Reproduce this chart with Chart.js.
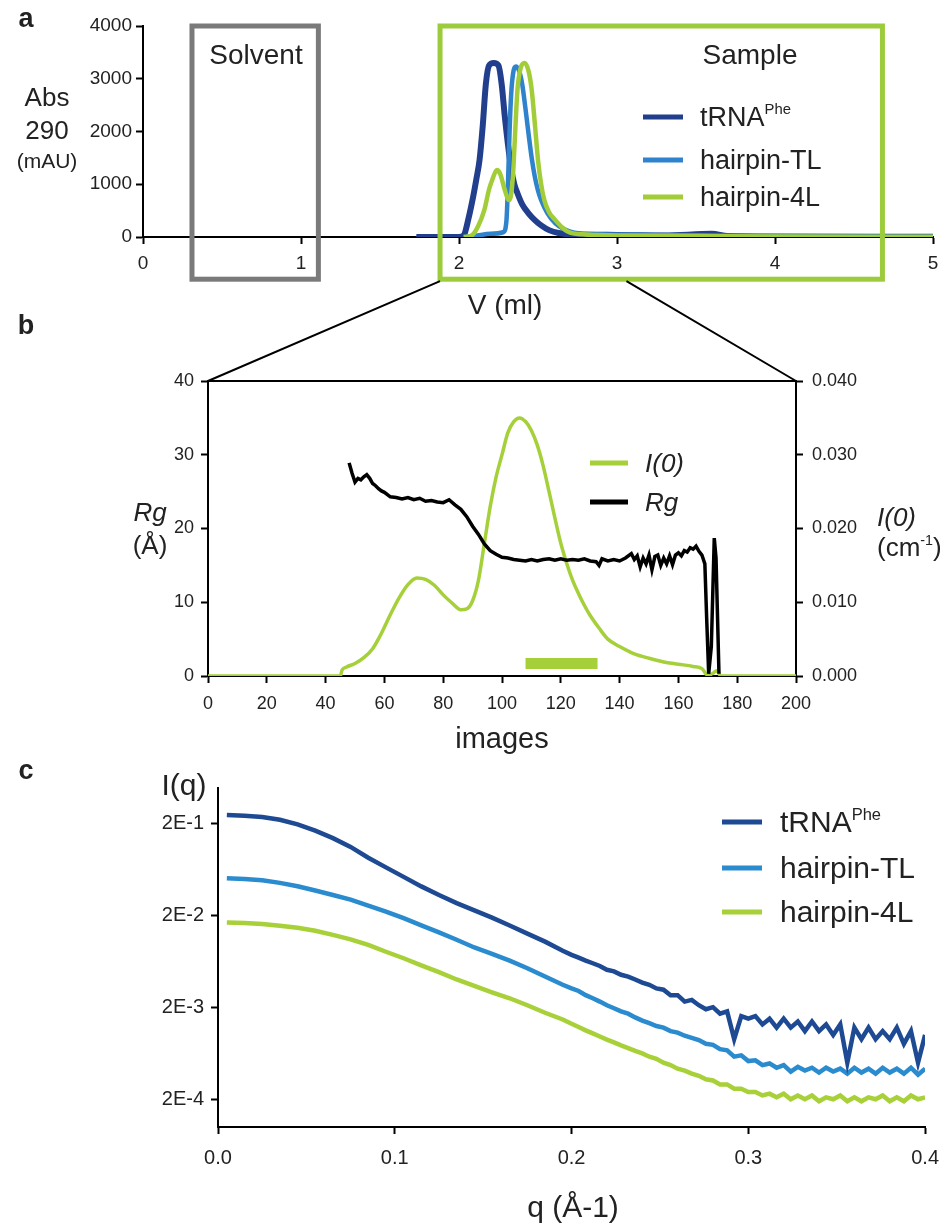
<!DOCTYPE html>
<html>
<head>
<meta charset="utf-8">
<script src="https://cdn.jsdelivr.net/npm/chart.js@4.4.0/dist/chart.umd.min.js"></script>
<style>
body{margin:0;background:#fff;font-family:'Liberation Sans',Arial,sans-serif;color:#222}
#page{position:relative;width:951px;height:1225px;overflow:hidden}
canvas{position:absolute;left:0}
.t{position:absolute;white-space:nowrap;transform:translate(-50%,-50%);line-height:1}
.l{position:absolute;white-space:nowrap;transform:translateY(-50%);line-height:1}
.sw{position:absolute;height:5px;transform:translateY(-50%)}
.bold{font-weight:bold}
.it{font-style:italic}
sup{font-size:55%;vertical-align:0.75em;line-height:0}
</style>
</head>
<body>
<div id="page">
  <canvas id="ca" width="951" height="300" style="top:0;width:951px;height:300px"></canvas>
  <canvas id="cb" width="951" height="440" style="top:300px;width:951px;height:440px"></canvas>
  <canvas id="cc" width="951" height="485" style="top:740px;width:951px;height:485px"></canvas>
  <canvas id="ov" width="951" height="1225" style="top:0;width:951px;height:1225px;pointer-events:none"></canvas>

  <!-- panel a text -->
  <div class="t bold" style="left:26px;top:18px;font-size:27px">a</div>
  <div class="t" style="left:47px;top:97px;font-size:26px">Abs</div>
  <div class="t" style="left:47px;top:130px;font-size:26px">290</div>
  <div class="t" style="left:47px;top:160px;font-size:21px">(mAU)</div>
  <div class="t" style="left:256px;top:55px;font-size:28px">Solvent</div>
  <div class="t" style="left:750px;top:55px;font-size:28px">Sample</div>
  <div class="sw" style="left:643px;top:117px;width:40px;background:#223f8e"></div>
  <div class="sw" style="left:643px;top:160px;width:40px;background:#2f82cc"></div>
  <div class="sw" style="left:643px;top:197px;width:40px;background:#a2cd39"></div>
  <div class="l" style="left:700px;top:117px;font-size:27px">tRNA<sup>Phe</sup></div>
  <div class="l" style="left:700px;top:160px;font-size:27px">hairpin-TL</div>
  <div class="l" style="left:700px;top:197px;font-size:27px">hairpin-4L</div>
  <div class="t" style="left:505px;top:305px;font-size:28px">V (ml)</div>

  <!-- panel b text -->
  <div class="t bold" style="left:26px;top:325px;font-size:27px">b</div>
  <div class="t it" style="left:150px;top:512px;font-size:26px">Rg</div>
  <div class="t" style="left:150px;top:545px;font-size:26px">(Å)</div>
  <div class="l it" style="left:877px;top:517px;font-size:26px">I(0)</div>
  <div class="l" style="left:877px;top:547px;font-size:26px">(cm<sup>-1</sup>)</div>
  <div class="sw" style="left:590px;top:463px;width:38px;background:#a5d03a"></div>
  <div class="sw" style="left:590px;top:502px;width:38px;background:#000"></div>
  <div class="l it" style="left:645px;top:463px;font-size:26px">I(0)</div>
  <div class="l it" style="left:645px;top:502px;font-size:26px">Rg</div>
  <div class="t" style="left:502px;top:738px;font-size:29px">images</div>

  <!-- panel c text -->
  <div class="t bold" style="left:26px;top:770px;font-size:27px">c</div>
  <div class="t" style="left:184px;top:785px;font-size:30px">I(q)</div>
  <div class="sw" style="left:722px;top:822px;width:40px;background:#1d4a93"></div>
  <div class="sw" style="left:722px;top:868px;width:40px;background:#2b8bcf"></div>
  <div class="sw" style="left:722px;top:912px;width:40px;background:#a8d038"></div>
  <div class="l" style="left:780px;top:822px;font-size:30px">tRNA<sup>Phe</sup></div>
  <div class="l" style="left:780px;top:868px;font-size:30px">hairpin-TL</div>
  <div class="l" style="left:780px;top:912px;font-size:30px">hairpin-4L</div>
  <div class="t" style="left:573px;top:1207px;font-size:30px">q (Å-1)</div>
</div>

<script>
// ---- panel a : elution profiles, Abs 290 (mAU) vs V (ml)
const vTrna = [1.73, 1.90, 2.00, 2.03, 2.06, 2.09, 2.11, 2.13, 2.15, 2.17, 2.19, 2.22, 2.25, 2.27, 2.29, 2.31, 2.33, 2.35, 2.37, 2.40, 2.44, 2.48, 2.52, 2.57, 2.63, 2.75, 3.0, 3.3, 3.6, 3.7, 4.0, 5.0];
const absTrna = [0, 0, 0, 30, 350, 770, 1100, 1460, 2100, 2900, 3250, 3300, 3250, 2900, 2280, 1750, 1300, 1000, 830, 620, 450, 320, 220, 130, 75, 45, 40, 30, 60, 20, 10, 5];
const vTl = [2.03, 2.10, 2.20, 2.28, 2.30, 2.31, 2.32, 2.33, 2.345, 2.36, 2.38, 2.40, 2.42, 2.44, 2.46, 2.48, 2.50, 2.52, 2.56, 2.61, 2.67, 2.73, 2.9, 3.3, 3.6, 4.0, 5.0];
const absTl = [0, 20, 60, 90, 300, 1000, 2000, 2700, 3150, 3230, 3150, 2900, 2450, 1960, 1500, 1140, 880, 700, 450, 260, 140, 80, 50, 40, 30, 15, 5];
const v4l = [2.03, 2.08, 2.12, 2.16, 2.19, 2.21, 2.24, 2.26, 2.29, 2.31, 2.32, 2.34, 2.35, 2.37, 2.39, 2.415, 2.44, 2.46, 2.48, 2.50, 2.52, 2.54, 2.57, 2.61, 2.65, 2.69, 2.78, 3.0, 3.5, 4.0, 5.0];
const abs4l = [0, 30, 200, 510, 900, 1080, 1270, 1200, 890, 720, 700, 1100, 1650, 2790, 3200, 3300, 3150, 2790, 2150, 1460, 1000, 700, 470, 320, 190, 100, 50, 30, 20, 10, 5];
const solventRange = [0.31, 1.11];   // ml
const sampleRange = [1.88, 4.68];    // ml
const zoomEnd = 3.06;                // ml, right end of the zoom wedge
const boxBottom = -800;              // mAU, boxes run below the axis

// ---- panel b : I(0) and Rg vs image number
const i0Images = [0, 45, 45.6, 47, 50, 53, 56, 59, 62, 65,
  68, 71, 74, 77, 80, 83, 86, 88, 90, 92,
  94, 96, 98, 100, 102, 104, 106, 108, 110, 112,
  114, 116, 118, 120, 122, 124, 126, 128, 130, 133,
  136, 140, 145, 150, 155, 160, 165, 168, 170, 171.5,
  173, 174.5, 200];
const i0Values = [0, 0, 0.0008, 0.0012, 0.0017, 0.0025, 0.0037, 0.0058, 0.0083, 0.0106,
  0.0124, 0.0133, 0.0131, 0.0123, 0.0110, 0.0099, 0.0090, 0.0091, 0.0102, 0.0130,
  0.0180, 0.0230, 0.0270, 0.0300, 0.0330, 0.0345, 0.0350, 0.0345, 0.0333, 0.0313,
  0.0285, 0.0250, 0.0214, 0.0180, 0.0153, 0.0130, 0.0112, 0.0096, 0.0082, 0.0065,
  0.0050, 0.0040, 0.0030, 0.0024, 0.0019, 0.0016, 0.0013, 0.0010, 0.0001, 0.0003,
  0.0007, 0.0000, 0.0000];
const rgImages = [48, 49, 50, 51, 52, 53, 54, 55, 56, 57,
  58, 59, 60, 62, 64, 66, 68, 70, 72, 74,
  76, 78, 80, 82, 84, 86, 88, 90, 92, 94,
  96, 98, 100, 102, 104, 106, 108, 110, 112, 114,
  116, 118, 120, 122, 124, 126, 128, 130, 132, 133,
  134, 136, 138, 140, 142, 144, 145, 146, 147, 148,
  149, 150, 151, 152, 153, 154, 155, 156, 157, 158,
  159, 160, 161, 162, 163, 164, 165, 166, 167, 168,
  169, 169.6, 170.3, 171.2, 172.2, 172.8, 173.8];
const rgValues = [28.9, 27.5, 26.3, 26.8, 26.6, 27.0, 27.3, 26.8, 26.1, 25.8,
  25.4, 25.1, 24.9, 24.3, 24.2, 24.0, 24.2, 23.9, 24.1, 23.7,
  23.8, 23.6, 23.5, 23.9, 23.2, 22.6, 21.6, 20.3, 19.2, 17.9,
  17.0, 16.5, 16.1, 16.0, 15.8, 15.7, 15.6, 15.8, 15.6, 15.8,
  15.9, 15.7, 15.9, 15.7, 15.8, 15.7, 15.9, 15.6, 15.5, 15.0,
  15.9, 15.6, 15.8, 15.6, 16.0, 16.6, 15.8, 16.3, 14.8, 16.0,
  15.2, 16.4, 14.4, 16.2, 16.4, 15.0, 16.0, 15.2, 16.3, 15.1,
  16.4, 16.7, 16.3, 17.0, 16.8, 17.4, 17.2, 17.6, 16.9, 16.4,
  15.2, 8.0, 0.3, 4.0, 18.7, 16.0, 0.3];
const frameRange = [108, 132.5];   // images averaged (green bar)
const frameBarLevel = 1.7;         // Rg units

// ---- panel c : I(q) vs q
const qVals = [0.005, 0.015, 0.025, 0.035, 0.045, 0.055, 0.065, 0.075, 0.085, 0.095,
  0.105, 0.115, 0.125, 0.135, 0.145, 0.155, 0.165, 0.175, 0.185, 0.195,
  0.200, 0.204, 0.208, 0.212, 0.216, 0.220, 0.224, 0.228, 0.232, 0.236,
  0.240, 0.244, 0.248, 0.252, 0.256, 0.260, 0.264, 0.268, 0.272, 0.276,
  0.280, 0.284, 0.288, 0.292, 0.296, 0.300, 0.304, 0.308, 0.312, 0.316,
  0.320, 0.324, 0.328, 0.332, 0.336, 0.340, 0.344, 0.348, 0.352, 0.356,
  0.360, 0.364, 0.368, 0.372, 0.376, 0.380, 0.384, 0.388, 0.392, 0.396,
  0.400];
const iqTrna = [0.244, 0.240, 0.232, 0.217, 0.193, 0.165, 0.137, 0.110, 0.084, 0.066,
  0.052, 0.041, 0.033, 0.027, 0.0225, 0.0188, 0.0154, 0.0126, 0.0103, 0.0082,
  0.0074, 0.0069, 0.0064, 0.0060, 0.0056, 0.0051, 0.0049, 0.0045, 0.0043, 0.0040,
  0.0037, 0.0035, 0.0032, 0.0031, 0.0027, 0.0027, 0.0023, 0.0024, 0.0021, 0.0019,
  0.0020, 0.0017, 0.0018, 0.0009, 0.0016, 0.0015, 0.0016, 0.0013, 0.0015, 0.0012,
  0.0015, 0.0012, 0.0014, 0.0011, 0.0014, 0.0011, 0.0013, 0.0010, 0.0013, 0.0005,
  0.0012, 0.0009, 0.0012, 0.0009, 0.0011, 0.0009, 0.0012, 0.0008, 0.0011, 0.0005,
  0.0010];
const iqTl = [0.0502, 0.0492, 0.0478, 0.0448, 0.0411, 0.0370, 0.0331, 0.0294, 0.0254, 0.0218,
  0.0185, 0.0155, 0.0130, 0.0108, 0.0089, 0.0076, 0.0064, 0.0053, 0.0043, 0.0035,
  0.0032, 0.0030, 0.0027, 0.0025, 0.0023, 0.0021, 0.00195, 0.0018, 0.0017, 0.00155,
  0.00143, 0.00134, 0.00125, 0.00120, 0.00110, 0.00106, 0.00098, 0.00093, 0.00088, 0.00080,
  0.00078, 0.00070, 0.00068, 0.00058, 0.00060, 0.00052, 0.00053, 0.00047, 0.00049, 0.00044,
  0.00047, 0.00040, 0.00045, 0.00041, 0.00044, 0.00039, 0.00044, 0.00040, 0.00043, 0.00038,
  0.00044, 0.00039, 0.00043, 0.00038, 0.00044, 0.00039, 0.00043, 0.00038, 0.00044, 0.00037,
  0.00043];
const iq4l = [0.0166, 0.0164, 0.0160, 0.0153, 0.0146, 0.0135, 0.0122, 0.0109, 0.0095, 0.0080,
  0.0068, 0.0057, 0.0048, 0.0040, 0.0034, 0.0029, 0.0025, 0.0021, 0.00174, 0.00147,
  0.00132, 0.00122, 0.00112, 0.00104, 0.00096, 0.00089, 0.00083, 0.00077, 0.00072, 0.00067,
  0.00063, 0.00058, 0.00055, 0.00050, 0.00047, 0.00043, 0.00041, 0.00038, 0.00036, 0.00033,
  0.00032, 0.00029, 0.00029, 0.00026, 0.00026, 0.00024, 0.00024, 0.00022, 0.00023, 0.00021,
  0.00023, 0.00020, 0.00022, 0.00020, 0.00022, 0.00019, 0.00021, 0.00020, 0.00022, 0.00019,
  0.00021, 0.00019, 0.00021, 0.00020, 0.00022, 0.00019, 0.00021, 0.00019, 0.00022, 0.00020,
  0.00021];
const yTicksC = [2e-4, 2e-3, 2e-2, 2e-1];
const yTickLabelsC = ['2E-4', '2E-3', '2E-2', '2E-1'];

Chart.defaults.font.family = "'Liberation Sans', Arial, sans-serif";
Chart.defaults.color = '#222';
Chart.defaults.animation = false;
Chart.defaults.plugins.legend.display = false;
Chart.defaults.plugins.tooltip.enabled = false;
Chart.defaults.elements.point.radius = 0;

const pts = (xs, ys) => xs.map((x, i) => ({x: x, y: ys[i]}));

// plain black axes with short outward ticks
const grid = {drawOnChartArea: false, drawTicks: true, tickLength: 7, tickWidth: 2, tickColor: '#000', color: '#000'};
const border = {display: true, color: '#000', width: 2};

const boxes = {
  id: 'boxes',
  afterDraw(c) {
    const sx = c.scales.x, sy = c.scales.y, ctx = c.ctx;
    const top = sy.getPixelForValue(4000), bot = sy.getPixelForValue(boxBottom);
    ctx.save();
    ctx.lineWidth = 5;
    ctx.lineJoin = 'miter';
    ctx.strokeStyle = '#7a7a7a';
    let l = sx.getPixelForValue(solventRange[0]), r = sx.getPixelForValue(solventRange[1]);
    ctx.strokeRect(l, top, r - l, bot - top);
    ctx.strokeStyle = '#9ccc3c';
    l = sx.getPixelForValue(sampleRange[0]); r = sx.getPixelForValue(sampleRange[1]);
    ctx.strokeRect(l, top, r - l, bot - top);
    ctx.restore();
  }
};

const topLine = {
  id: 'topLine',
  afterDraw(c) {
    const a = c.chartArea, ctx = c.ctx;
    ctx.save();
    ctx.strokeStyle = '#000';
    ctx.lineWidth = 2;
    ctx.beginPath();
    ctx.moveTo(a.left - 1, a.top);
    ctx.lineTo(a.right + 1, a.top);
    ctx.stroke();
    ctx.restore();
  }
};

const chartA = new Chart(document.getElementById('ca'), {
  type: 'line',
  data: {datasets: [
    {data: pts(vTrna, absTrna), borderColor: '#223f8e', borderWidth: 6, cubicInterpolationMode: 'monotone', order: 2},
    {data: pts(vTl, absTl), borderColor: '#2f82cc', borderWidth: 4.5, cubicInterpolationMode: 'monotone', order: 1},
    {data: pts(v4l, abs4l), borderColor: '#a2cd39', borderWidth: 4.5, cubicInterpolationMode: 'monotone', order: 0}
  ]},
  options: {
    responsive: false,
    layout: {padding: {left: 0, right: 18, top: 26, bottom: 0}},
    scales: {
      x: {type: 'linear', min: 0, max: 5, grid: grid, border: border,
          ticks: {stepSize: 1, font: {size: 19}, padding: 8, maxRotation: 0},
          afterFit(s) { s.height = 63; }},
      y: {min: 0, max: 4000, grid: grid, border: border,
          ticks: {stepSize: 1000, font: {size: 19}, padding: 4, callback: v => String(v)},
          afterFit(s) { s.width = 143; }}
    }
  },
  plugins: [boxes]
});

const chartB = new Chart(document.getElementById('cb'), {
  type: 'line',
  data: {datasets: [
    {data: pts(rgImages, rgValues), yAxisID: 'y', borderColor: '#000', borderWidth: 3.5, tension: 0, order: 0},
    {data: pts(i0Images, i0Values), yAxisID: 'y1', borderColor: '#a5d03a', borderWidth: 3.5, cubicInterpolationMode: 'monotone', order: 1},
    {data: pts(frameRange, [frameBarLevel, frameBarLevel]), yAxisID: 'y', borderColor: '#a5d03a', borderWidth: 11, borderCapStyle: 'butt', order: 2}
  ]},
  options: {
    responsive: false,
    layout: {padding: {left: 0, right: 0, top: 81, bottom: 0}},
    scales: {
      x: {type: 'linear', min: 0, max: 200, grid: grid, border: border,
          ticks: {stepSize: 20, font: {size: 18}, padding: 10, maxRotation: 0, autoSkip: false},
          afterFit(s) { s.height = 64; }},
      y: {position: 'left', min: 0, max: 40, grid: grid, border: border,
          ticks: {stepSize: 10, font: {size: 18}, padding: 7},
          afterFit(s) { s.width = 208; }},
      y1: {position: 'right', min: 0, max: 0.04, grid: grid, border: border,
          ticks: {stepSize: 0.01, font: {size: 18}, padding: 9, callback: v => v.toFixed(3)},
          afterFit(s) { s.width = 155; }}
    }
  },
  plugins: [topLine]
});

const chartC = new Chart(document.getElementById('cc'), {
  type: 'line',
  data: {datasets: [
    {data: pts(qVals, iqTrna), borderColor: '#1d4a93', borderWidth: 4.5, tension: 0, order: 0},
    {data: pts(qVals, iqTl), borderColor: '#2b8bcf', borderWidth: 4.5, tension: 0, order: 1},
    {data: pts(qVals, iq4l), borderColor: '#a8d038', borderWidth: 4.5, tension: 0, order: 2}
  ]},
  options: {
    responsive: false,
    layout: {padding: {left: 0, right: 21, top: 48, bottom: 0}},
    scales: {
      x: {type: 'linear', min: 0, max: 0.4, grid: grid, border: border,
          ticks: {stepSize: 0.1, font: {size: 20}, padding: 12, maxRotation: 0, callback: v => v.toFixed(1)},
          afterFit(s) { s.height = 98; }},
      y: {type: 'logarithmic', min: 1e-4, max: 0.48, grid: grid, border: border,
          afterBuildTicks(s) { s.ticks = yTicksC.map(v => ({value: v})); },
          ticks: {font: {size: 20}, padding: 7, callback: v => {
            const i = yTicksC.indexOf(v);
            return i < 0 ? '' : yTickLabelsC[i];
          }},
          afterFit(s) { s.width = 218; }}
    }
  }
});

// wedge linking the sample window of panel a to panel b
(function () {
  const ctx = document.getElementById('ov').getContext('2d');
  const ax = chartA.scales.x, ay = chartA.scales.y;
  const yb = ay.getPixelForValue(boxBottom);
  const b = chartB.chartArea, offB = 300;
  ctx.strokeStyle = '#000';
  ctx.lineWidth = 2;
  ctx.beginPath();
  ctx.moveTo(ax.getPixelForValue(sampleRange[0]), yb + 2);
  ctx.lineTo(b.left, b.top + offB);
  ctx.moveTo(ax.getPixelForValue(zoomEnd), yb + 2);
  ctx.lineTo(b.right, b.top + offB);
  ctx.stroke();
})();
</script>
</body>
</html>
